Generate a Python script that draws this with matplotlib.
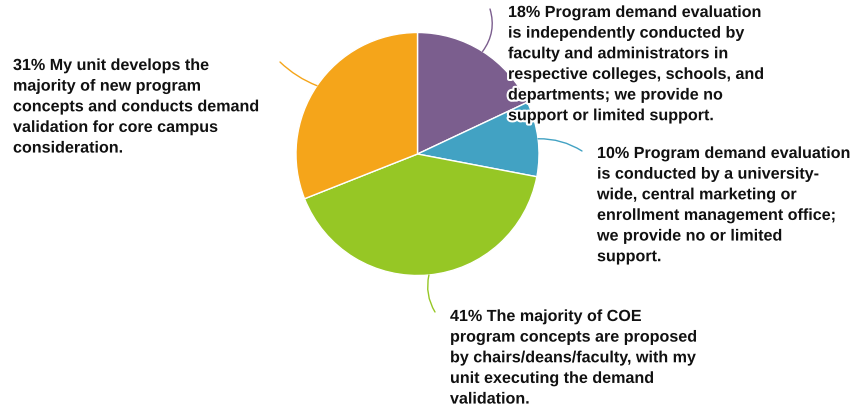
import numpy as np
import matplotlib.pyplot as plt
import matplotlib.patheffects as pe

plt.rcParams['font.family'] = ['Liberation Sans', 'DejaVu Sans']

shares = [18, 10, 41, 31]
colors = ['#7B5E8E', '#42A2C3', '#96C725', '#F5A51A']
labels = [
    "18% Program demand evaluation\nis independently conducted by\nfaculty and administrators in\nrespective colleges, schools, and\ndepartments; we provide no\nsupport or limited support.",
    "10% Program demand evaluation\nis conducted by a university-\nwide, central marketing or\nenrollment management office;\nwe provide no or limited\nsupport.",
    "41% The majority of COE\nprogram concepts are proposed\nby chairs/deans/faculty, with my\nunit executing the demand\nvalidation.",
    "31% My unit develops the\nmajority of new program\nconcepts and conducts demand\nvalidation for core campus\nconsideration.",
]
# text top-left and leader end, in pixels from top-left of the image
text_pos = [(508, 6), (597, 147), (450, 310), (13, 59)]
leader_end = [(490, 10), (582, 152), (435, 313), (280, 63)]
leader_rad = [0.25, -0.15, 0.2, -0.1]

W, H = 859, 410
cx, cy, r = 417.5, 155, 121.5

fig = plt.figure(figsize=(W / 100, H / 100), dpi=100)
ax = fig.add_axes([(cx - r) / W, (H - cy - r) / H, 2 * r / W, 2 * r / H])
wedges, _ = ax.pie(shares, colors=colors, startangle=90, counterclock=False,
                   radius=1, wedgeprops=dict(edgecolor='white', linewidth=1))
ax.set_xlim(-1, 1)
ax.set_ylim(-1, 1)
ax.axis('off')

for w, c, end, rad in zip(wedges, colors, leader_end, leader_rad):
    ang = np.deg2rad((w.theta1 + w.theta2) / 2)
    ax.annotate("", xy=(end[0], H - end[1]), xycoords='figure pixels',
                xytext=(np.cos(ang), np.sin(ang)), textcoords='data',
                arrowprops=dict(arrowstyle='-', color=c, lw=1,
                                connectionstyle=f"arc3,rad={rad}",
                                shrinkA=0, shrinkB=0),
                annotation_clip=False)

for txt, (tx, ty) in zip(labels, text_pos):
    fig.text(tx / W, 1 - ty / H, txt, ha='left', va='top', fontsize=11.6,
             fontweight='bold', color='#111111', linespacing=1.47, zorder=5,
             path_effects=[pe.withStroke(linewidth=3, foreground='white')])

fig.savefig('out.png', dpi=100, facecolor='white')
